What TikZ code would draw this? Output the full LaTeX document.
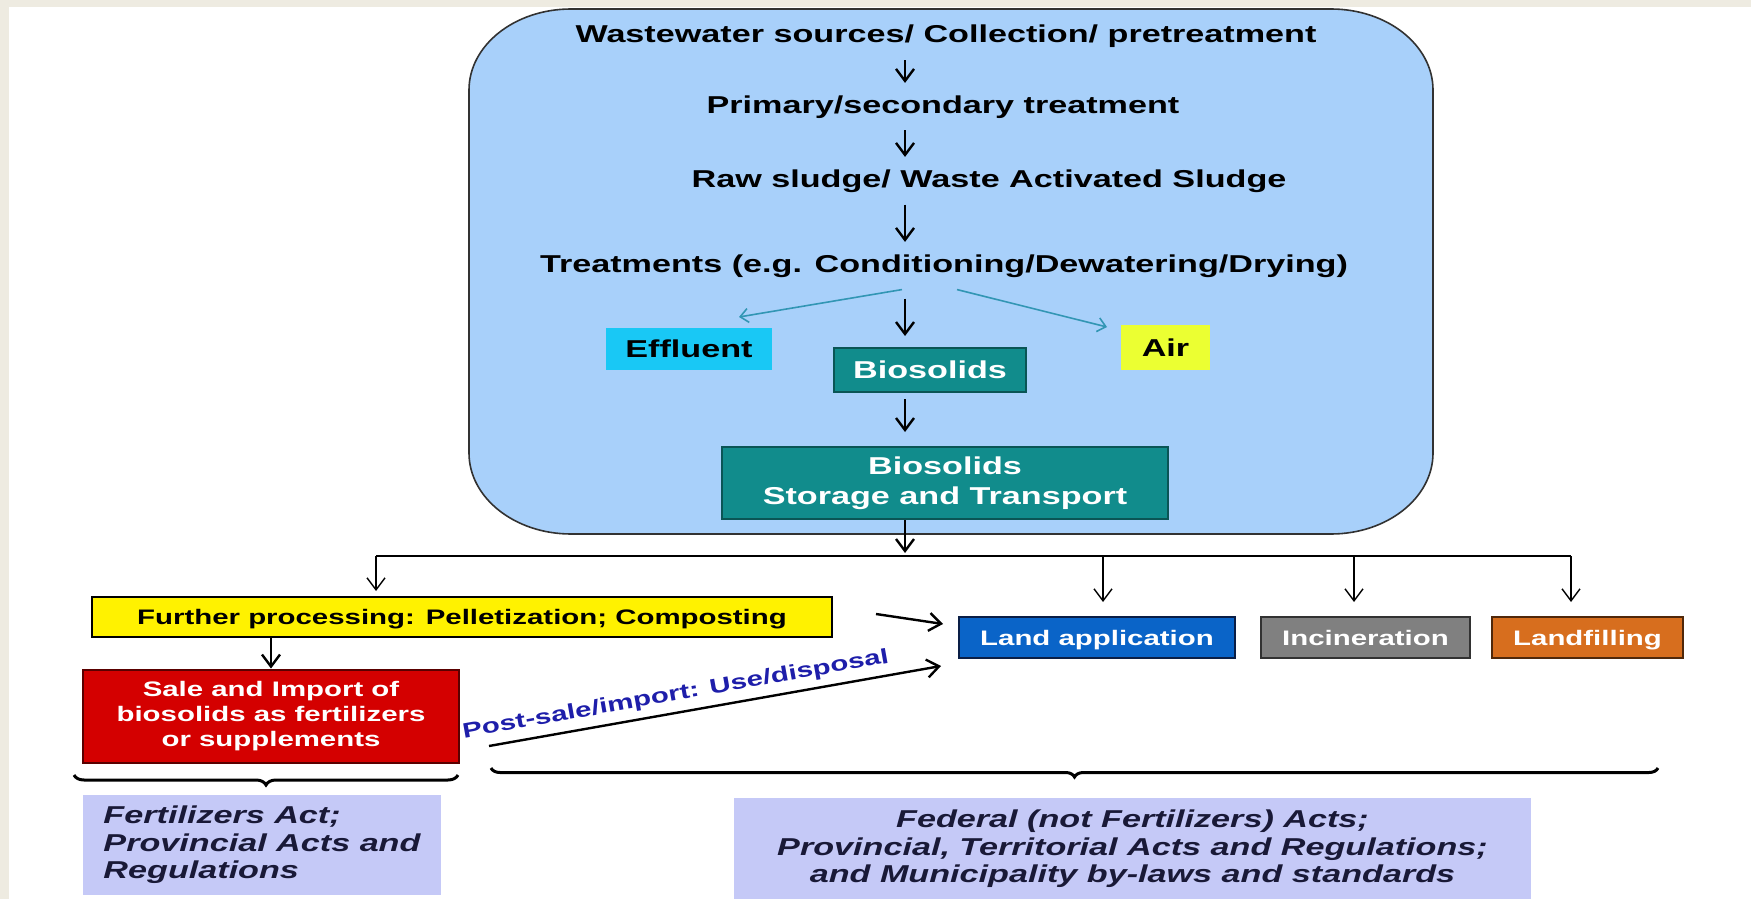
\documentclass[tikz,border=0pt]{standalone}
\usepackage{fontspec}
\setmainfont{Liberation Sans}[FakeStretch=1.4]
\usetikzlibrary{arrows.meta}
\usetikzlibrary{decorations.pathreplacing}

\definecolor{frame}{RGB}{238,235,225}
\definecolor{plant}{RGB}{168,208,250}
\definecolor{plantedge}{RGB}{50,50,50}
\definecolor{effluent}{RGB}{25,200,245}
\definecolor{biosol}{RGB}{17,140,140}
\definecolor{biosoledge}{RGB}{10,85,85}
\definecolor{airyellow}{RGB}{235,255,50}
\definecolor{sidearrow}{RGB}{50,150,180}
\definecolor{salered}{RGB}{212,0,0}
\definecolor{saleedge}{RGB}{90,0,0}
\definecolor{landblue}{RGB}{10,100,200}
\definecolor{landedge}{RGB}{10,30,70}
\definecolor{incingray}{RGB}{128,128,128}
\definecolor{landfillorange}{RGB}{215,110,30}
\definecolor{landfilledge}{RGB}{80,40,10}
\definecolor{lawfill}{RGB}{197,201,247}
\definecolor{lawtext}{RGB}{25,25,55}
\definecolor{postblue}{RGB}{30,30,170}

\newcommand{\bigtxt}{\fontsize{12.2pt}{15pt}\selectfont\bfseries}
\newcommand{\smalltxt}{\fontsize{10.5pt}{12.7pt}\selectfont\bfseries}
\newcommand{\lawtxt}{\fontsize{12.2pt}{13.8pt}\selectfont\bfseries\itshape}

\begin{document}
\begin{tikzpicture}[x=0.5pt, y=-0.5pt,
  stage/.style={font=\bigtxt, inner sep=6pt, anchor=base},
  tagbox/.style={inner sep=0pt, align=center, line width=1pt},
  rowbox/.style={tagbox, font=\smalltxt, text height=7.5pt, text depth=0pt, minimum height=20.5pt},
  flow/.style={-{Straight Barb[length=6pt,width=9pt]}, line width=1.2pt},
  side/.style={-{Straight Barb[length=4pt,width=7pt]}, line width=0.8pt, draw=sidearrow},
  drop/.style={-{Straight Barb[length=6pt,width=9pt]}, line width=0.7pt},
  law/.style={fill=lawfill, text=lawtext, font=\lawtxt, inner sep=0pt},
  bracket/.style={decorate, decoration={brace, amplitude=#1, mirror}, line width=1.5pt}]

\fill[white] (0,0) rectangle (1751,899);
\fill[frame] (0,0) rectangle (1751,7);
\fill[frame] (0,0) rectangle (9,899);
\useasboundingbox (0,0) rectangle (1751,899);

% treatment plant
\draw[fill=plant, draw=plantedge, line width=0.8pt] (469,90)
  arc[start angle=180, end angle=270, x radius=102, y radius=81] -- (1331,9)
  arc[start angle=270, end angle=360, x radius=102, y radius=81] -- (1433,453)
  arc[start angle=0, end angle=90, x radius=102, y radius=81] -- (571,534)
  arc[start angle=90, end angle=180, x radius=102, y radius=81] -- cycle;

\coordinate (axis) at (905,0);
\node[stage] (src) at (946,43) {Wastewater sources/ Collection/ pretreatment};
\node[stage] (prim) at (943,113) {Primary/secondary treatment};
\node[stage] (sludge) at (989,187) {Raw sludge/ Waste Activated Sludge};
\node[stage] (treat) at (944,272) {Treatments (e.g. Conditioning/Dewatering/Drying)};
\coordinate (fork) at (treat.south -| axis);

\node[tagbox, fill=effluent, font=\bigtxt, minimum width=83pt, minimum height=21pt] (effl) at (689,349) {Effluent};
\node[tagbox, fill=biosol, draw=biosoledge, text=white, font=\bigtxt, minimum width=96pt, minimum height=22pt] (bio) at (930,370) {Biosolids};
\node[tagbox, fill=airyellow, font=\bigtxt, minimum width=44.5pt, minimum height=22.5pt] (air) at (1165.5,347.5) {Air};
\node[tagbox, fill=biosol, draw=biosoledge, text=white, font=\bigtxt, minimum width=223pt, minimum height=36pt] (store) at (945,483) {Biosolids\\Storage and Transport};

\draw[flow] (src.south -| axis) -- (prim.north -| axis);
\draw[flow] (prim.south -| axis) -- (sludge.north -| axis);
\draw[flow] (sludge.south -| axis) -- (treat.north -| axis);
\draw[flow, shorten <=4.5pt, shorten >=5.5pt] (fork) -- (bio.north -| axis);
\draw[side] ([xshift=-1.5pt]fork) -- ([xshift=-17pt,yshift=5pt]effl.north east);
\draw[side] ([xshift=26pt]fork) -- ([xshift=-6.5pt,yshift=-1.5pt]air.north west);
\draw[flow, shorten <=3pt, shorten >=7pt] (bio.south -| axis) -- (store.north -| axis);

% use and disposal
\node[rowbox, fill=yellow, draw=black, minimum width=370pt, minimum height=20pt] (further) at (462,617) {Further processing: Pelletization; Composting};
\node[tagbox, fill=salered, draw=saleedge, text=white, font=\smalltxt, minimum width=188pt, minimum height=46.5pt] (sale) at (271,716) {Sale and Import of\\biosolids as fertilizers\\or supplements};
\node[rowbox, fill=landblue, draw=landedge, text=white, minimum width=138pt] (land) at (1097,637.5) {Land application};
\node[rowbox, fill=incingray, draw=plantedge, text=white, minimum width=104.5pt] (incin) at (1365.5,637.5) {Incineration};
\node[rowbox, fill=landfillorange, draw=landfilledge, text=white, minimum width=95.5pt] (landfill) at (1587.5,637.5) {Landfilling};

\coordinate (busL) at (376,556);
\coordinate (busR) at (1571,556);
\coordinate (dLand) at (1103,556);
\coordinate (dIncin) at (1354,556);
\draw[flow, shorten >=1.5pt] (store.south -| axis) -- (axis |- busL);
\draw[line width=1pt] (busL) -- (busR);
\draw[drop, shorten >=2.5pt] (busL) -- (further.north -| busL);
\draw[drop, shorten >=7pt] (dLand) -- (land.north -| dLand);
\draw[drop, shorten >=7pt] (dIncin) -- (incin.north -| dIncin);
\draw[drop, shorten >=7pt] (busR) -- (landfill.north -| busR);

\draw[flow] (sale.north |- further.south) -- (sale.north);
\draw[flow] ([xshift=21.5pt,yshift=1.5pt]further.east) -- ([xshift=-7.5pt,yshift=6.75pt]land.west);
\draw[flow] ([xshift=14.5pt,yshift=-15pt]sale.east) -- node[pos=0.42, sloped, above, font=\smalltxt, text=postblue] {Post-sale/import: Use/disposal} ([xshift=-8.5pt,yshift=-3.5pt]land.south west);

% regulation
\draw[bracket=5pt] (74,775) -- (458,775);
\draw[bracket=4.5pt] (491,768) -- (1658,768);
\node[law, align=left, minimum width=179pt, minimum height=50pt] (lawL) at (262,845) {Fertilizers Act;\\Provincial Acts and\\Regulations};
\node[law, align=center, minimum width=398.5pt, minimum height=51.5pt] (lawR) at (1132.5,849) {Federal (not Fertilizers) Acts;\\Provincial, Territorial Acts and Regulations;\\and Municipality by-laws and standards};

\end{tikzpicture}
\end{document}
